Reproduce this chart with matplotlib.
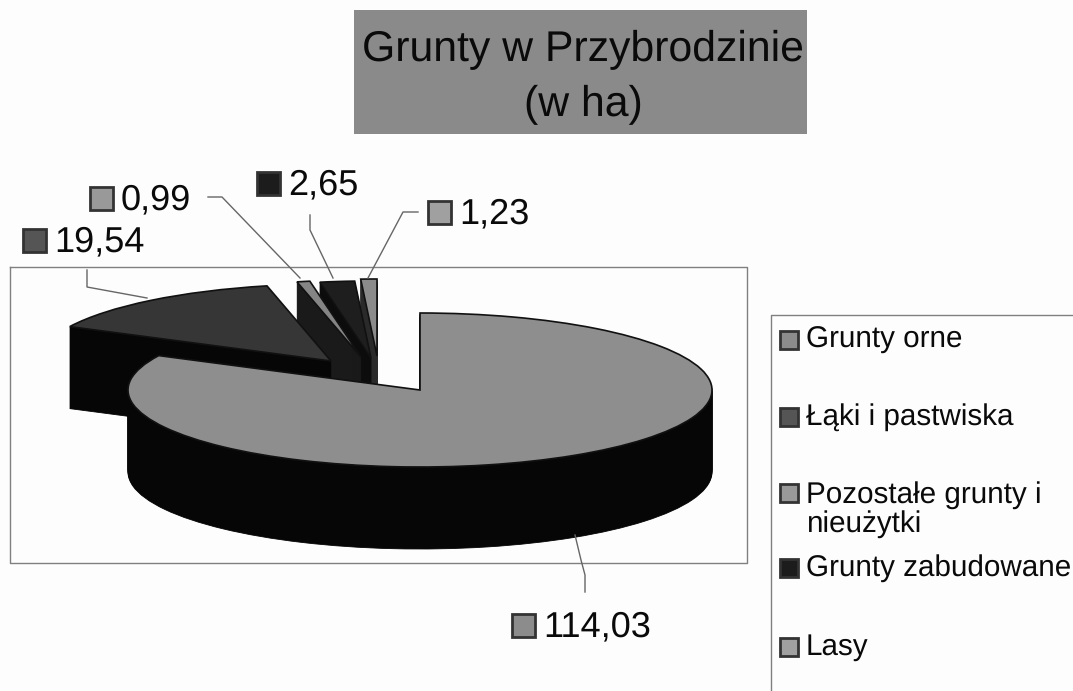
from matplotlib.pyplot import *
from matplotlib.patches import Wedge, Rectangle

categories = ['Grunty orne', 'Łąki i pastwiska', 'Pozostałe grunty i\nnieużytki', 'Grunty zabudowane', 'Lasy']
values = [114.03, 19.54, 0.99, 2.65, 1.23]
title_lines = 'Grunty w Przybrodzinie\n(w ha)'

# layout in pixels of the 1073x691 picture
W, H = 1073, 691
rx, ry = 292, 77
cx0, cy0 = 420, 390
depth = 82
centers = [(420, 390), (331, 361), (361, 357), (371, 358), (377, 356)]
top_colors = ['#8e8e8e', '#363636', '#858585', '#1e1e1e', '#8b8b8b']
side_colors = ['#060606', '#060606', '#1a1a1a', '#0c0c0c', '#2a2a2a']
key_colors = ['#8c8c8c', '#555555', '#999999', '#1c1c1c', '#a0a0a0']
draw_order = [4, 3, 2, 1, 0]

rcParams['font.family'] = ['Liberation Sans', 'DejaVu Sans']
rcParams['text.hinting'] = 'no_hinting'

fig = figure(figsize=(W/100, H/100), dpi=100, facecolor='#fdfdfd')
ax = fig.add_axes([0, 0, 1, 1])
wedges, _ = ax.pie(values, startangle=90, counterclock=False, radius=1, colors=top_colors)
ax.set_aspect('auto')
ax.set_xlim(-cx0/rx, (W-cx0)/rx)
ax.set_ylim((cy0-H)/ry, cy0/ry)
ax.axis('off')

z = 2
for i in draw_order:
    w = wedges[i]
    c = ((centers[i][0]-cx0)/rx, (cy0-centers[i][1])/ry)
    for k in range(depth, 0, -1):
        ax.add_patch(Wedge((c[0], c[1]-k/ry), 1, w.theta1, w.theta2, facecolor=side_colors[i],
                           edgecolor=side_colors[i], linewidth=0.6, zorder=z))
    w.set_center(c)
    w.set_zorder(z+1)
    w.set_edgecolor('#111111')
    w.set_linewidth(1.2)
    z += 2

# overlay in pixel coordinates for frame, labels, legend
ov = fig.add_axes([0, 0, 1, 1], facecolor='none')
ov.set_xlim(0, W)
ov.set_ylim(H, 0)
ov.axis('off')

# title box
ov.add_patch(Rectangle((354, 10), 453, 124, facecolor='#8a8a8a', edgecolor='none', zorder=1))
ov.text(583, 50, title_lines.split('\n')[0], ha='center', va='center', fontsize=30.8, color='#0a0a0a', zorder=2)
ov.text(583, 105, title_lines.split('\n')[1], ha='center', va='center', fontsize=30.8, color='#0a0a0a', zorder=2)

# plot frame
ov.plot([10, 747, 747, 10, 10], [267, 267, 563, 563, 267], color='#808080', lw=1)

# legend frame runs off the picture
ov.plot([1073, 771, 771], [315, 315, 691], color='#808080', lw=1)
leg_y = [340, 417, 493, 568, 647]
leg_text_y = [340, 417, 510, 568, 647]
for i in range(len(categories)):
    ov.add_patch(Rectangle((780, leg_y[i]-9), 18, 18, facecolor=key_colors[i], edgecolor='#333333', lw=2))
    ov.text(806, leg_text_y[i], categories[i], ha='left', va='center', fontsize=21.3, color='#0a0a0a', linespacing=1.05)

# data labels
label_sq = [(512, 614), (23, 229), (90, 187), (257, 172), (428, 201)]
for i in range(len(values)):
    x, y = label_sq[i]
    ov.add_patch(Rectangle((x, y), 23, 23, facecolor=key_colors[i], edgecolor='#333333', lw=2))
    ov.text(x+31, y+13, f'{values[i]:.2f}'.replace('.', ','), ha='left', va='center', fontsize=26, color='#0a0a0a')

# leader lines
leaders = [([575, 581, 585, 585], [535, 560, 575, 592]),
           ([87, 87, 147], [270, 287, 298]),
           ([208, 222, 300], [197, 197, 278]),
           ([310, 310, 333], [215, 230, 278]),
           ([418, 403, 368], [212, 212, 278])]
for xs, ys in leaders:
    ov.plot(xs, ys, color='#666666', lw=1)

savefig('out.png', dpi=100)
